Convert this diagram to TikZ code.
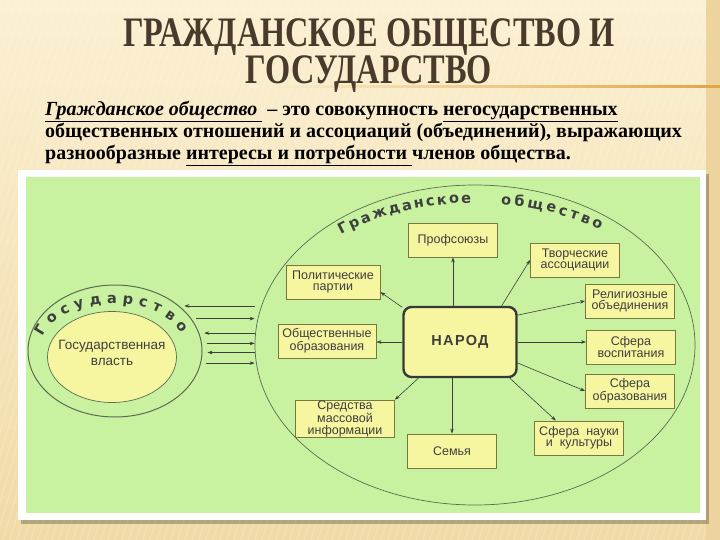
\documentclass[tikz,border=0pt]{standalone}
\usepackage{fontspec}
\setmainfont{Liberation Serif}
\setsansfont{Liberation Sans}
\newfontfamily\titlefont[FakeStretch=0.77]{Liberation Serif}
\newfontfamily\arcfont{DejaVu Sans}
\usetikzlibrary{shapes.geometric,arrows.meta,decorations.text,positioning}

\definecolor{slidetop}{HTML}{FBF0D2}
\definecolor{slidebot}{HTML}{F1DAA6}
\definecolor{titlebrown}{HTML}{4A3A2C}
\definecolor{rulecol}{HTML}{E3A545}
\definecolor{panelgreen}{HTML}{C8F2A0}
\definecolor{boxfill}{HTML}{F6F6A0}
\definecolor{boxline}{HTML}{77773F}
\definecolor{inkgray}{HTML}{3E3E3E}
\definecolor{ringline}{HTML}{5C6B52}

\tikzset{
  box/.style={draw=boxline, fill=boxfill, line width=0.9pt, text=inkgray,
    font=\sffamily\fontsize{12.5}{11.5}\selectfont, align=center,
    inner sep=1pt, minimum width=89pt, minimum height=34pt},
  narodbox/.style={box, line width=2.4pt, draw=inkgray!90!black, rounded corners=8pt,
    minimum width=113pt, minimum height=70pt,
    font=\sffamily\bfseries\fontsize{14.5}{14.5}\selectfont\addfontfeature{LetterSpace=9}},
  link/.style={draw=inkgray, line width=0.6pt},
  arr/.style={link, -{Stealth[length=5pt,width=3.5pt]}},
  rarr/.style={link, {Stealth[length=5pt,width=3.5pt]}-},
  arctext/.style={decorate, decoration={text along path, text align={fit to path},
    text color=inkgray, text={|\arcfont\bfseries\fontsize{14.5}{14.5}\selectfont|#1}}},
}

\begin{document}
\begin{tikzpicture}[x=1pt, y=-1pt]
  % Slide
  \useasboundingbox (0,0) rectangle (720,540);
  \shade[top color=slidetop, bottom color=slidebot] (0,0) rectangle (720,540);
  \begin{scope}
    \clip (0,0) rectangle (720,540);
    \foreach \x in {-200,-193,...,720}
      \draw[white, opacity=0.18, line width=1.2pt] (\x,540) -- (\x+160,0);
  \end{scope}
  \fill[slidebot!92!brown] (706,0) rectangle (720,540);
  \shade[left color=slidetop, right color=rulecol] (250,86) rectangle (720,87.5);

  % Title
  \node[anchor=base, align=center, inner sep=0pt, text=titlebrown,
    font=\titlefont\bfseries\fontsize{42}{32}\selectfont] (title) at (369,84)
    {ГРАЖДАНСКОЕ ОБЩЕСТВО И\\ГОСУДАРСТВО};

  % Definition
  \node[anchor=north west, align=left, inner sep=0pt,
    font=\bfseries\fontsize{20}{22}\selectfont] (defin) at (45,101)
    {\underline{\textit{Гражданское общество }} – это совокупность \underline{негосударственных}\\
     общественных отношений и ассоциаций (объединений), выражающих\\
     разнообразные \underline{интересы и потребности }членов общества.};

  % Panel
  \fill[black, opacity=0.25] (21,174) rectangle (709,524);
  \fill[white] (18,170) rectangle (706,520);
  \fill[panelgreen] (26,177) rectangle (700,513);

  % Ellipses
  \node[ellipse, draw=ringline, line width=0.7pt, minimum width=440pt, minimum height=320pt,
    inner sep=0pt] (obsh) at (475,345) {};
  \node[ellipse, draw=ringline, line width=1pt, minimum width=174pt, minimum height=132pt,
    inner sep=0pt] (gos) at (115,351) {};
  \node[ellipse, draw=ringline, fill=boxfill, line width=0.7pt, minimum width=129pt,
    minimum height=91pt, inner sep=0pt] (vlast) at (112,357) {};
  \node[text=inkgray, align=center, font=\sffamily\fontsize{13.5}{16}\selectfont]
    (vlasttxt) at (112,353) {Государственная\\власть};

  % Curved labels
  \path[arctext={Гражданское}] (obsh.center) ++(-129:213 and 142)
    arc[start angle=-129, end angle=-91, x radius=213, y radius=142];
  \path[arctext={общество}] (obsh.center) ++(-83:213 and 142)
    arc[start angle=-83, end angle=-54, x radius=213, y radius=142];
  \path[arctext={Государство}] (113,351) ++(-163:74 and 48)
    arc[start angle=-163, end angle=-22, x radius=74, y radius=48];

  % Boxes
  \node[narodbox] (narod) at (460,342) {НАРОД};
  \node[box] (prof) at (453,240) {Профсоюзы};
  \node[box] (tvor) at (575,260) {Творческие\\ассоциации};
  \node[box] (relig) at (630,301) {Религиозные\\объединения};
  \node[box] (vosp) at (631,347) {Сфера\\воспитания};
  \node[box] (obraz) at (630,391) {Сфера\\образования};
  \node[box] (nauka) at (579,438) {Сфера\ \ науки\\и\ \ культуры};
  \node[box] (semya) at (452,451) {Семья};
  \node[box, minimum width=99pt, minimum height=35pt] (smi) at (345,419) {Средства\\массовой\\информации};
  \node[box, minimum width=98pt] (obshch) at (327,341) {Общественные\\образования};
  \node[box, minimum width=94pt] (polit) at (333,282) {Политические\\партии};

  % Arrows from the people
  \draw[arr] (narod.north -| prof) -- (prof.south);
  \draw[arr] (narod.41) -- (tvor.west);
  \draw[arr] (narod.25) -- (relig.west);
  \draw[arr] (narod.east) -- (narod.east -| vosp.west);
  \draw[arr] (narod.-20) -- (obraz.west);
  \draw[arr] (narod.-36) -- (nauka.143);
  \draw[arr] (narod.south -| semya) -- (semya.north);
  \draw[arr] (narod.-139) -- (smi.north east);
  \draw[arr] (narod.west) -- (narod.west -| obshch.east);
  \draw[arr] (narod.149) -- (polit.-12);

  % Arrows between state and society
  \foreach \a/\tip in {35/rarr, 23/arr, 12/rarr, 5/arr, -1/rarr, -8/arr}
    \draw[\tip, shorten <=5pt] (gos.\a) -- (gos.\a -| obsh.west);
\end{tikzpicture}
\end{document}
